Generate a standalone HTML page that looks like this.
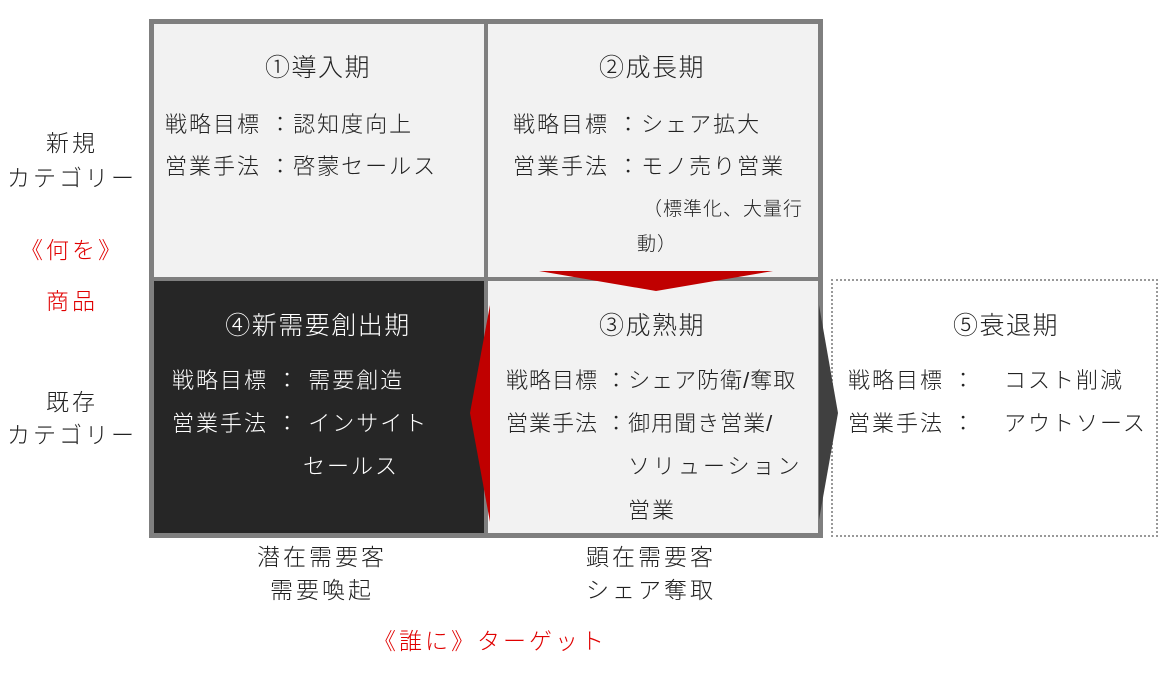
<!DOCTYPE html>
<html><head><meta charset="utf-8"><style>
body{margin:0;width:1173px;height:675px;background:#fff;position:relative;overflow:hidden;font-family:"Liberation Sans","Noto Sans CJK JP",sans-serif;font-weight:300;color:#222}
.t{position:absolute;white-space:nowrap;line-height:30px;font-size:22px;letter-spacing:2px}
.c{transform:translateX(-50%)}
.h{font-size:25px;letter-spacing:1.5px}
.l{font-size:23px;letter-spacing:3px}
.r{color:#e00000}
.w{color:#fff}
.box{position:absolute;box-sizing:border-box}
</style></head><body>
<div class="box" style="left:150px;top:20px;width:672px;height:518px;background:#f2f2f2"></div>
<div class="box" style="left:152px;top:279px;width:334px;height:256px;background:#262626"></div>
<div class="box" style="left:149px;top:19px;width:674px;height:519px;border:5px solid #7f7f7f"></div>
<div class="box" style="left:484px;top:20px;width:4px;height:515px;background:#7f7f7f"></div>
<div class="box" style="left:150px;top:277px;width:670px;height:4px;background:#7f7f7f"></div>
<div class="box" style="left:831px;top:279px;width:327px;height:258px;border:2px dotted #999"></div>
<svg class="box" style="left:0;top:0" width="1173" height="675">
<polygon points="539,271 773,271 656,291" fill="#c00000"/>
<polygon points="490,305 490,522 470,413" fill="#c00000"/>
<polygon points="819,305 819,520 838,413" fill="#404040"/>
</svg>
<div class="t h c" style="left:318px;top:53px">①導入期</div>
<div class="t" style="left:165px;top:110px">戦略目標 ：認知度向上</div>
<div class="t" style="left:165px;top:152px">営業手法 ：啓蒙セールス</div>
<div class="t h c" style="left:652px;top:53px">②成長期</div>
<div class="t" style="left:513px;top:110px">戦略目標 ：シェア拡大</div>
<div class="t" style="left:513px;top:152px">営業手法 ：モノ売り営業</div>
<div class="t" style="left:643px;top:195px;font-size:19px;letter-spacing:1px">（標準化、大量行</div>
<div class="t" style="left:637px;top:230px;font-size:19px;letter-spacing:1px">動）</div>
<div class="t h c w" style="left:318px;top:311px">④新需要創出期</div>
<div class="t w" style="left:172px;top:366px">戦略目標 ： 需要創造</div>
<div class="t w" style="left:172px;top:409px">営業手法 ： インサイト</div>
<div class="t w" style="left:303px;top:452px">セールス</div>
<div class="t h c" style="left:652px;top:311px">③成熟期</div>
<div class="t" style="left:506px;top:366px;letter-spacing:1px">戦略目標 ：シェア防衛/奪取</div>
<div class="t" style="left:506px;top:409px;letter-spacing:1px">営業手法 ：御用聞き営業/</div>
<div class="t" style="left:628px;top:452px;letter-spacing:3px">ソリューション</div>
<div class="t" style="left:628px;top:496px">営業</div>
<div class="t h c" style="left:1006px;top:311px">⑤衰退期</div>
<div class="t" style="left:848px;top:366px">戦略目標 ：</div>
<div class="t" style="left:1004px;top:366px">コスト削減</div>
<div class="t" style="left:848px;top:409px">営業手法 ：</div>
<div class="t" style="left:1004px;top:409px">アウトソース</div>
<div class="t c l" style="left:72px;top:128px">新規</div>
<div class="t c l" style="left:72px;top:163px">カテゴリー</div>
<div class="t c r l" style="left:72px;top:235px">《何を》</div>
<div class="t c r l" style="left:72px;top:286px">商品</div>
<div class="t c l" style="left:72px;top:387px">既存</div>
<div class="t c l" style="left:72px;top:420px">カテゴリー</div>
<div class="t c l" style="left:322px;top:542px">潜在需要客</div>
<div class="t c l" style="left:322px;top:575px">需要喚起</div>
<div class="t c l" style="left:651px;top:542px">顕在需要客</div>
<div class="t c l" style="left:651px;top:575px">シェア奪取</div>
<div class="t c r l" style="left:490px;top:626px">《誰に》ターゲット</div>
</body></html>
